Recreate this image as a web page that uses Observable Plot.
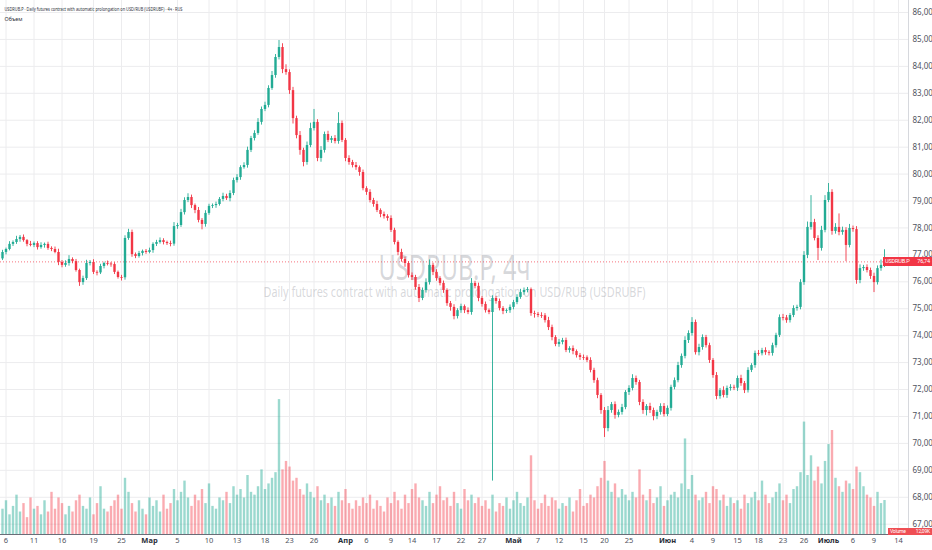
<!DOCTYPE html>
<html><head><meta charset="utf-8">
<script src="https://cdn.jsdelivr.net/npm/d3@7"></script>
<script src="https://cdn.jsdelivr.net/npm/@observablehq/plot@0.6"></script>
<style>
body{margin:0;background:#fff;}
#wrap{position:relative;width:932px;height:550px;overflow:hidden;font-family:Roboto, "Liberation Sans", sans-serif;background:#fff;}
#wrap svg{position:absolute;left:0;top:0;}
.tag{position:absolute;background:#f23645;color:#fff;display:flex;align-items:center;justify-content:space-between;box-sizing:border-box;padding:0 2px;white-space:nowrap;letter-spacing:-0.2px;line-height:1;}
</style></head><body><div id="wrap"></div>
<script>
const symbol = "USDRUB.P";
const titleText = "USDRUB.P · Daily futures contract with automatic prolongation on USD/RUB (USDRUBF) · 4ч · RUS";
const subTitleText = "Объем";
const watermarkMain = "USDRUB.P, 4ч";
const watermarkSub = "Daily futures contract with automatic prolongation on USD/RUB (USDRUBF)";
const lastPrice = 76.74;
const lastPriceText = "76,74";
const volumeLabel = "Volume";
const lastVolumeText = "12,09K";

const firstOpen = 76.85;
const closes = [
77.09,77.20,77.39,77.46,77.57,77.65,77.53,77.39,77.35,77.42,
77.27,77.35,77.39,77.24,77.20,77.09,76.72,76.61,76.68,76.83,
76.75,76.42,75.97,76.12,76.68,76.72,76.35,76.33,76.57,76.68,
76.66,76.64,76.35,76.16,76.15,77.61,77.83,77.01,76.94,77.05,
77.13,77.09,77.16,77.39,77.46,77.53,77.46,77.42,77.40,78.05,
78.09,78.57,79.02,79.13,78.83,78.65,78.28,78.13,78.54,78.80,
78.83,78.87,79.06,79.17,79.09,79.28,79.76,79.87,80.24,80.32,
80.88,81.32,81.51,81.92,82.40,82.55,83.18,83.66,84.33,84.70,
83.88,83.77,83.10,82.06,81.43,80.88,80.43,81.06,81.69,81.92,
80.58,80.88,81.47,81.25,81.32,81.21,81.88,81.25,80.58,80.43,
80.32,80.24,80.06,79.46,79.32,79.02,78.87,78.65,78.50,78.42,
78.35,77.91,77.46,77.09,76.83,76.68,76.23,76.16,75.79,75.38,
75.68,75.97,76.61,76.35,76.12,75.94,75.68,75.19,75.05,74.71,
74.93,75.08,74.93,74.86,75.94,75.83,75.38,75.16,74.93,74.86,
75.38,75.27,75.01,74.90,74.93,75.05,75.23,75.42,75.60,75.68,
75.71,74.82,74.79,74.75,74.74,74.56,74.30,73.93,73.67,73.75,
73.82,73.45,73.52,73.41,73.26,73.19,73.18,73.08,72.71,72.33,
71.78,71.22,70.55,71.22,71.44,71.04,71.15,71.33,71.89,72.04,
72.41,72.26,71.52,71.22,71.37,71.22,71.00,71.15,71.37,71.07,
71.30,72.08,72.33,72.89,73.23,73.82,74.08,74.49,73.37,73.56,
73.93,73.63,73.08,72.52,71.74,71.96,71.78,72.04,72.08,72.05,
72.41,72.22,71.96,72.71,72.89,73.34,73.33,73.45,73.37,73.34,
73.63,74.01,74.67,74.66,74.56,74.75,75.01,75.05,75.97,76.98,
78.02,78.20,77.61,77.24,77.91,79.02,79.32,77.87,78.02,77.83,
77.91,77.35,77.98,77.94,76.05,76.49,76.53,76.42,76.20,75.97,
76.49,76.61,76.74];
// upper / lower wick beyond the body, in kopecks
const wickUp = [
8,5,10,6,12,7,9,4,11,6, 7,10,5,8,6,9,12,7,10,14, 6,8,5,9,12,7,10,6,8,5,
9,6,7,5,8,10,12,9,6,8, 5,7,9,6,8,10,7,5,9,15, 8,12,10,14,9,6,11,7,10,8,
6,9,7,12,8,10,9,11,7,10, 12,8,10,14,9,12,10,15,11,26, 14,18,10,12,9,15,8,13,20,48,
10,14,9,12,8,11,40,9,7,10, 8,11,6,9,7,10,8,12,6,9, 7,10,8,6,12,9,7,10,8,11,
9,14,20,8,10,7,9,6,8,10, 7,9,6,10,18,8,12,7,9,6, 10,8,9,7,6,9,8,10,12,9,
8,6,9,7,10,8,12,9,7,11, 8,9,7,10,6,8,9,7,10,8, 9,7,11,15,8,10,9,12,7,10,
14,9,8,10,7,12,9,8,10,11, 9,8,10,12,9,14,10,18,9,12, 10,8,9,7,11,8,14,9,10,8,
9,12,8,10,7,9,11,8,10,7, 9,8,10,12,9,7,10,8,11,14, 20,100,12,10,15,18,33,10,14,50,
12,10,15,9,11,14,8,10,9,12, 10,20,45];
const wickDn = [
6,9,5,8,7,10,6,9,5,8, 9,6,10,7,8,5,12,9,7,10, 8,6,14,10,7,9,8,11,6,9,
7,10,8,6,12,9,7,10,8,6, 9,7,5,10,8,6,9,7,10,8, 10,7,9,8,11,12,9,20,10,7,
8,10,6,9,7,12,8,9,10,6, 10,8,9,7,10,8,9,7,10,9, 15,10,14,20,12,18,16,10,8,9,
12,14,10,8,11,9,10,8,12,10, 9,10,14,8,11,9,10,8,12,9, 10,8,9,12,10,14,9,11,10,15,
8,10,9,12,10,9,11,10,14,12, 9,10,11,8,10,9,12,10,9,8, 626,10,9,12,8,10,9,8,7,10,
9,10,14,8,10,9,11,12,8,10, 9,8,10,12,9,11,10,8,9,10, 12,14,33,12,10,14,9,10,8,11,
9,10,12,14,20,11,16,12,10,9, 8,10,9,8,10,9,11,10,9,12, 10,9,11,10,12,10,9,11,10,9,
12,10,11,9,8,10,9,8,10,9, 10,9,8,11,10,9,8,10,9,10, 12,10,9,45,10,9,8,14,10,12,
10,60,9,10,14,12,10,9,11,37, 9,10,8];
// volume, thousands of contracts
const volumes = [
9,12,7,10,14,8,11,6,13,9, 10,7,12,8,15,9,13,11,7,10, 8,12,14,10,9,13,7,11,17,9,
8,10,12,14,9,20,15,11,8,12, 9,7,13,10,12,8,14,9,11,16, 12,15,19,13,10,14,12,16,11,18,
10,9,13,12,15,11,17,14,16,13, 21,15,14,17,23,16,18,20,22,48, 23,26,24,19,20,16,14,18,15,13,
17,12,14,11,13,10,15,12,16,11, 9,12,10,13,11,14,9,12,10,8, 13,11,15,12,9,14,11,16,18,13,
12,10,15,11,14,17,12,13,10,15, 11,9,16,12,14,11,13,10,12,9, 14,8,11,10,13,9,12,15,11,10,
13,28,12,9,11,14,10,13,12,9, 11,10,13,8,12,16,10,11,14,13, 17,20,26,19,15,18,13,16,14,12,
15,13,23,14,12,16,11,13,17,10, 12,14,15,13,18,34,16,21,14,12, 13,15,11,17,16,12,14,10,13,11,
12,9,14,11,13,15,12,19,14,11, 13,15,18,12,14,11,16,17,22,40, 21,28,19,24,18,26,32,37,20,17,
15,19,18,16,24,22,17,14,13,10, 15,11,12.09];

const priceTicks = [67,68,69,70,71,72,73,74,75,76,77,78,79,80,81,82,83,84,85,86];
const dateTickIndex = [1,9,17,26,34,42,50,59,67,75,82,89,98,104,111,117,124,131,137,146,153,159,166,172,179,190,197,203,210,216,223,229,236,243,249,256];
const dateTickLabels = ["6","11","16","19","25","Мар","5","10","13","18","23","26","Апр","6","9","14","17","22","27","Май","7","12","15","20","25","Июн","4","9","15","18","23","26","Июль","6","9","14"];

const G = "#22ab94", R = "#f23645";
const VG = "rgba(34,171,148,0.45)", VR = "rgba(242,54,69,0.42)";

const candles = closes.map((c, i) => {
  const o = i ? closes[i - 1] : firstOpen;
  return {i, o, c, hi: Math.max(o, c) + wickUp[i] / 100, lo: Math.min(o, c) - wickDn[i] / 100, v: volumes[i], up: c >= o};
});
const dateTicks = dateTickIndex.map((i, k) => ({i, label: dateTickLabels[k], month: /^\D/.test(dateTickLabels[k])}));

const W = 932, H = 550, MR = 24, MB = 16;
const xDomain = [-4 / 7, 906 / 3.5];
const yDomain = [66.617, 86.446];

const pricePlot = Plot.plot({
  width: W, height: H, marginLeft: 0, marginRight: MR, marginTop: 0, marginBottom: MB,
  style: {background: "transparent", overflow: "visible"},
  x: {domain: xDomain, axis: null},
  y: {domain: yDomain, axis: null},
  color: {type: "identity"},
  marks: [
    Plot.ruleY(priceTicks, {stroke: "#ececee", strokeWidth: 1}),
    Plot.ruleX(dateTickIndex, {stroke: "#ececee", strokeWidth: 1}),
    Plot.text([watermarkMain], {frameAnchor: "top-left", dx: 454, dy: 255, textAnchor: "middle", fontSize: 34, fill: "#9598a1", fillOpacity: 0.38}),
    Plot.text([watermarkSub], {frameAnchor: "top-left", dx: 454, dy: 286, textAnchor: "middle", fontSize: 15, fill: "#9598a1", fillOpacity: 0.38}),
    Plot.ruleY([lastPrice], {stroke: R, strokeOpacity: 0.7, strokeDasharray: "1,2"}),
    Plot.ruleX(candles, {x: "i", y1: "lo", y2: "hi", stroke: d => d.up ? G : R, strokeWidth: 0.9}),
    Plot.ruleX(candles, {x: "i", y1: "o", y2: d => Math.abs(d.c - d.o) < 0.03 ? d.o + (d.up ? 0.03 : -0.03) : d.c, stroke: d => d.up ? G : R, strokeWidth: 2.4}),
    Plot.ruleX([xDomain[1]], {stroke: "#d6d8dd"}),
    Plot.ruleY([yDomain[0]], {stroke: "#6a6d78"}),
    Plot.axisY(priceTicks, {anchor: "right", tickSize: 0, tickPadding: 4, tickFormat: d => d.toFixed(2).replace(".", ","), fontSize: 8, fill: "#50535e"}),
    Plot.text(dateTicks.filter(d => !d.month), {x: "i", frameAnchor: "bottom", dy: 8, text: "label", fontSize: 7.5, fill: "#50535e"}),
    Plot.text(dateTicks.filter(d => d.month), {x: "i", frameAnchor: "bottom", dy: 8, text: "label", fontSize: 7.5, fontWeight: "bold", fill: "#2a2e39"}),
    Plot.text([titleText], {frameAnchor: "top-left", dx: 4, dy: 7, textAnchor: "start", fontSize: 5.5, fill: "#2a2e39"}),
    Plot.text([subTitleText], {frameAnchor: "top-left", dx: 4, dy: 17, textAnchor: "start", fontSize: 5.5, fill: "#2a2e39"})
  ]
});

const volumePlot = Plot.plot({
  width: W, height: H, marginLeft: 0, marginRight: MR, marginTop: 0, marginBottom: MB,
  style: {background: "transparent"},
  x: {domain: xDomain, axis: null},
  y: {domain: [0, 190], axis: null},
  color: {type: "identity"},
  marks: [
    Plot.ruleX(candles, {x: "i", y1: 0, y2: "v", stroke: d => d.up ? VG : VR, strokeWidth: 2.4})
  ]
});

const wrap = document.getElementById("wrap");
wrap.appendChild(pricePlot);
wrap.appendChild(volumePlot);
volumePlot.style.pointerEvents = "none";

pricePlot.querySelectorAll("text").forEach(t => {
  const s = t.textContent;
  const fit = (len) => { t.setAttribute("textLength", len); t.setAttribute("lengthAdjust", "spacingAndGlyphs"); };
  if (s === watermarkMain) fit(152);
  else if (s === watermarkSub) fit(382);
  else if (s === titleText) fit(178);
});

const yPx = pricePlot.scale("y").apply(lastPrice);
const tag = document.createElement("div");
tag.className = "tag";
tag.style.cssText = `left:883px;top:${yPx - 4}px;width:49px;height:9px;font-size:5.6px;`;
tag.innerHTML = `<span>${symbol}</span><span>${lastPriceText}</span>`;
wrap.appendChild(tag);

const vtag = document.createElement("div");
vtag.className = "tag";
vtag.style.cssText = `left:888px;top:${H - MB - 6.5}px;width:44px;height:7px;font-size:5px;background:#ef4f55;`;
vtag.innerHTML = `<span>${volumeLabel}</span><span>${lastVolumeText}</span>`;
wrap.appendChild(vtag);
</script></body></html>
